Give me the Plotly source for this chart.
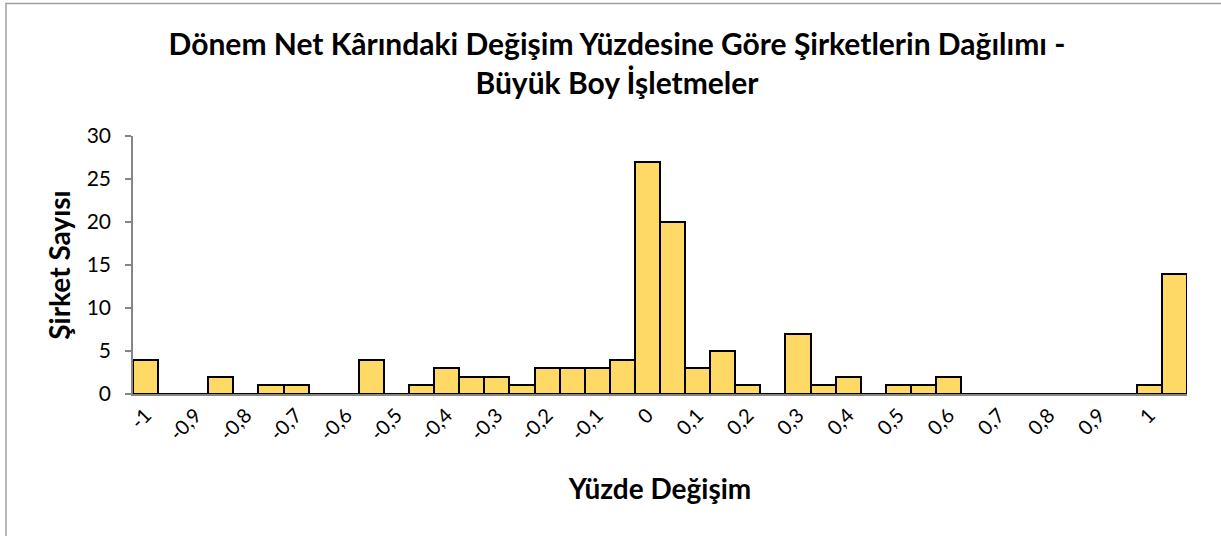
import plotly.graph_objects as go

# Bin centres (percentage change) and company counts
bins = [round(-1 + 0.05 * i, 2) for i in range(42)]
counts = [4, 0, 0, 2, 0, 1, 1, 0, 0, 4,
          0, 1, 3, 2, 2, 1, 3, 3, 3, 4,
          27, 20, 3, 5, 1, 0, 7, 1, 2, 0,
          1, 1, 2, 0, 0, 0, 0, 0, 0, 0,
          1, 14]
tick_vals = [round(-1 + 0.1 * i, 1) for i in range(21)]
tick_text = ["-1", "-0,9", "-0,8", "-0,7", "-0,6", "-0,5", "-0,4", "-0,3", "-0,2", "-0,1",
             "0", "0,1", "0,2", "0,3", "0,4", "0,5", "0,6", "0,7", "0,8", "0,9", "1"]

title_text = "Dönem Net Kârındaki Değişim Yüzdesine Göre Şirketlerin Dağılımı -<br>Büyük Boy İşletmeler"
x_title = "Yüzde Değişim"
y_title = "Şirket Sayısı"

FONT = "Lato"

fig = go.Figure(go.Bar(
    x=bins, y=counts, width=0.05,
    marker=dict(color="#FFD966", line=dict(color="#000000", width=2)),
))

W, H = 1221, 536
L, R, T, B = 133, 34, 136, 142
pw, ph = W - L - R, H - T - B

fig.update_layout(
    width=W, height=H,
    margin=dict(l=L, r=R, t=T, b=B),
    paper_bgcolor="white", plot_bgcolor="white",
    bargap=0, showlegend=False,
    font=dict(family=FONT, color="#000000", size=20),
    title=dict(text=title_text, x=617 / W, xref="container", xanchor="center",
               y=1 - 55 / H, yref="container", yanchor="middle",
               font=dict(family=FONT, size=30, color="#000000", weight="bold")),
    xaxis=dict(range=[-1.025, 1.075], tickvals=tick_vals, ticktext=tick_text,
               tickangle=-45, showgrid=False, zeroline=False,
               showline=True, linecolor="#868686", linewidth=1.5,
               ticks="", tickfont=dict(size=20, family=FONT),
               title=dict(text=x_title, standoff=36,
                          font=dict(size=28, family=FONT, weight="bold"))),
    yaxis=dict(range=[0, 30], dtick=5, showgrid=False, zeroline=False,
               showline=True, linecolor="#868686", linewidth=1.5,
               ticks="outside", ticklen=6, tickcolor="#868686", tickwidth=1.5,
               ticklabelstandoff=10,
               tickfont=dict(size=21, family=FONT),
               title=dict(text=y_title, standoff=8,
                          font=dict(size=28, family=FONT, weight="bold"))),
)

# outer chart frame (only left and top edges visible in the picture)
fig.add_shape(type="rect", xref="paper", yref="paper",
              x0=(6 - L) / pw, x1=(W + 20 - L) / pw,
              y0=(H - T - H - 20) / ph, y1=(H - B - 3.5) / ph,
              line=dict(color="#A0A0A0", width=1.5), fillcolor="rgba(0,0,0,0)",
              layer="below")

fig.write_html("out.html", config={"displayModeBar": False},
               post_script="document.body.style.margin='0';document.body.style.overflow='hidden';")
